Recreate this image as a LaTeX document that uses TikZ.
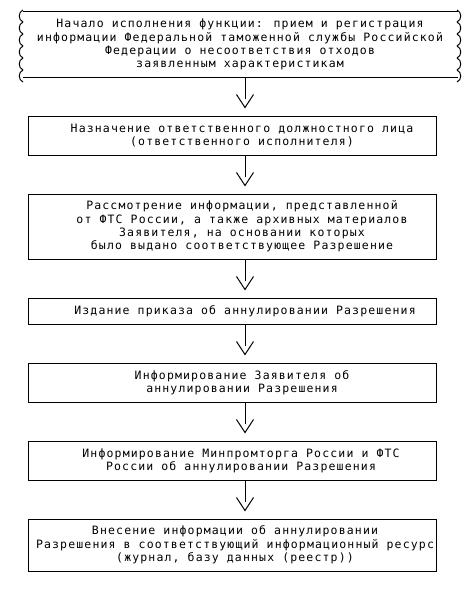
\documentclass[tikz,border=0pt]{standalone}
\usepackage{fontspec}
\newfontfamily\boxfont[LetterSpace=10]{DejaVu Sans Mono}

\pgfdeclarearrow{
  name = flowvee,
  setup code = {
    \pgfarrowssettipend{0pt}
    \pgfarrowssetbackend{-13pt}
    \pgfarrowssetlineend{-9pt}
    \pgfarrowshullpoint{0pt}{0pt}
    \pgfarrowsupperhullpoint{-13pt}{8.5pt}
  },
  drawing code = {
    \pgfpathmoveto{\pgfqpoint{-13pt}{8.5pt}}
    \pgfpathlineto{\pgfqpoint{0pt}{0pt}}
    \pgfpathlineto{\pgfqpoint{-13pt}{-8.5pt}}
    \pgfusepathqstroke
  }
}

\tikzset{
    stepbox/.style={draw,minimum width=408pt,inner sep=0pt},
    steptext/.style={font=\boxfont\fontsize{11.5pt}{13.3pt}\selectfont,
        align=center,inner sep=0pt},
}

\begin{document}
\begin{tikzpicture}[x=1pt,y=-1pt,line width=1pt,>=flowvee]
        \useasboundingbox (0,0) rectangle (473,592);
        %% Start
        \node[steptext,minimum width=434pt,minimum height=65pt]
            (B1) at (240,44.5) {Начало исполнения функции: прием и регистрация\\
            информации Федеральной таможенной службы Российской\\
            Федерации о несоответствия отходов\\
            заявленным характеристикам};
        \draw (B1.north west) -- (B1.north east);
        \draw (B1.south west) -- (B1.south east);
        \foreach \y in {10,22,...,70} {
            \draw (23,\y) .. controls (18,\y+2) and (18,\y+10) .. (23,\y+12);
            \draw (457,\y) .. controls (462,\y+2) and (462,\y+10) .. (457,\y+12);
        }
        %% Steps
        \node[stepbox,minimum height=39pt,
            label={[steptext,xshift=10pt]center:{Назначение ответственного должностного лица\\
            (ответственного исполнителя)}}] (B2) at (232,135.5) {};
        \node[stepbox,minimum height=65pt,
            label={[steptext,xshift=10pt]center:{Рассмотрение информации, представленной\\
            от ФТС России, а также архивных материалов\\
            Заявителя, на основании которых\\
            было выдано соответствующее Разрешение}}] (B3) at (232,226.5) {};
        \node[stepbox,minimum height=26pt,
            label={[steptext,xshift=13pt]center:{Издание приказа об аннулировании Разрешения}}]
            (B4) at (232,311) {};
        \node[stepbox,minimum height=39pt,
            label={[steptext,xshift=10pt]center:{Информирование Заявителя об\\
            аннулировании Разрешения}}] (B5) at (232,382.5) {};
        \node[stepbox,minimum height=39pt,
            label={[steptext,xshift=9pt]center:{Информирование Минпромторга России и ФТС\\
            России об аннулировании Разрешения}}] (B6) at (232,460.5) {};
        \node[stepbox,minimum height=52pt,
            label={[steptext,xshift=3pt]center:{Внесение информации об аннулировании\\
            Разрешения в соответствующий информационный ресурс\\
            (журнал, базу данных (реестр))}}] (B7) at (232,545) {};
        %% Arrows
        \coordinate (ax) at (245,0);
        \foreach \a/\b in {B1/B2,B2/B3,B3/B4,B4/B5,B5/B6,B6/B7}
            \draw[->,shorten >=8pt] (\a.south -| ax) -- (\b.north -| ax);
\end{tikzpicture}
\end{document}
